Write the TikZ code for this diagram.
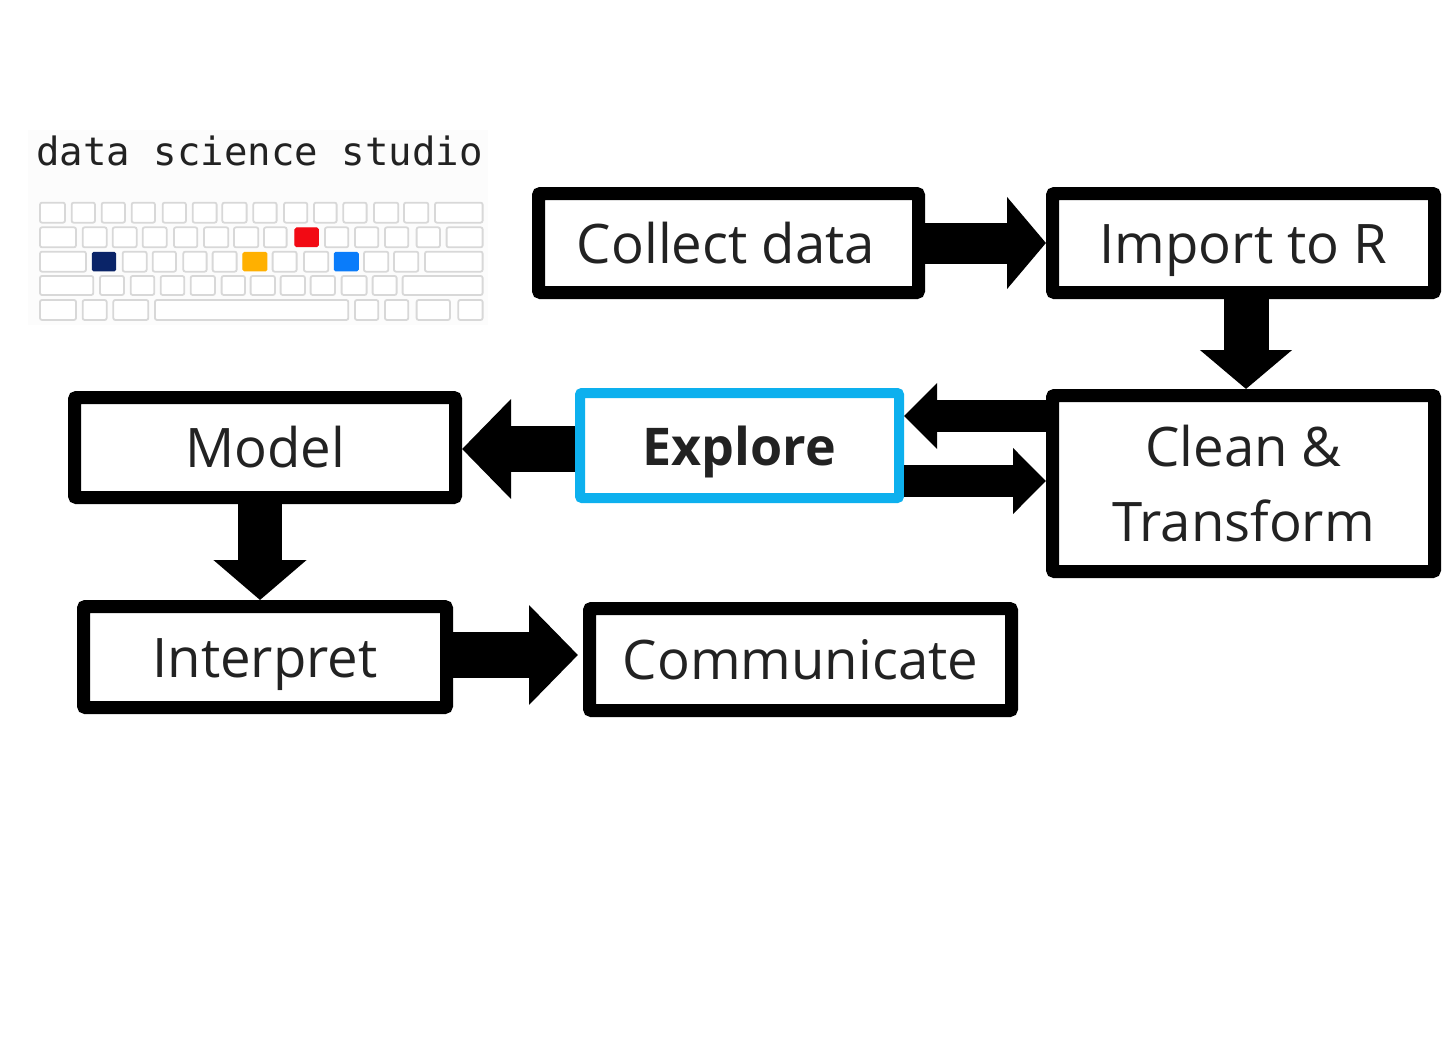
\documentclass[tikz,border=0pt]{standalone}
\usepackage{fontspec}
\setmainfont{Open Sans}
\newfontfamily\logofont{DejaVu Sans Mono}
\usetikzlibrary{arrows.meta}
\definecolor{exploreblue}{HTML}{0DB0EE}
\definecolor{keyline}{HTML}{D8D8D8}
\definecolor{txt}{HTML}{222222}
\definecolor{kred}{HTML}{F20A14}
\definecolor{knavy}{HTML}{0A2468}
\definecolor{korange}{HTML}{FFB000}
\definecolor{kblue}{HTML}{0A7CFA}
\tikzset{
  stagebox/.style={draw=black,line width=13pt,rounded corners=2pt,fill=white,inner sep=0pt,text=txt,
    font=\fontsize{54.5}{75}\selectfont,align=center},
  oneline/.style={text height=45pt,text depth=5pt},
  arrowA/.style={line width=41pt,-{Triangle[length=39pt,width=90pt]}},
  arrowB/.style={line width=32pt,-{Triangle[length=33pt,width=64pt]}},
  arrowC/.style={line width=46pt,-{Triangle[length=49pt,width=97pt]}},
  kbkey/.style={draw=keyline,line width=1.8pt,fill=white,rounded corners=2pt},
  kbcol/.style={draw=#1,fill=#1,line width=1pt,rounded corners=1.5pt},
}
\begin{document}
\begin{tikzpicture}[x=1pt,y=-1pt]
\useasboundingbox (0,0) rectangle (1445,1062);
\fill[white] (0,0) rectangle (1445,1062);
% logo
\fill[black!1] (28,130) rectangle (488,325);
\node[font=\logofont\fontsize{39}{39}\selectfont,text=txt,inner sep=0pt,anchor=base] (logotext) at (259.5,165) {data science studio};
\begin{scope}[shift={(20,120)},x=0.3333pt,y=-0.3333pt]
\foreach \a/\b in {60/135,155/225,245/315,335/405,428/498,518/590,607/680,700/770,792/862,882/950,970/1040,1062/1135,1152/1225,1245/1388}
  \draw[kbkey] (\a,248) rectangle (\b,308);
\foreach \a/\b in {60/168,188/260,278/350,368/440,462/532,552/625,642/715,732/800,915/985,1005/1075,1095/1165,1190/1260,1280/1388}
  \draw[kbkey] (\a,322) rectangle (\b,382);
\foreach \a/\b in {60/198,308/380,398/468,490/560,578/650,758/830,852/925,1032/1105,1122/1195,1215/1388}
  \draw[kbkey] (\a,395) rectangle (\b,455);
\foreach \a/\b in {60/220,240/312,332/403,422/493,512/585,605/675,692/765,782/855,872/945,965/1040,1058/1130,1148/1388}
  \draw[kbkey] (\a,468) rectangle (\b,525);
\foreach \a/\b in {60/168,188/260,280/385,405/985,1005/1075,1095/1165,1190/1290,1315/1388}
  \draw[kbkey] (\a,540) rectangle (\b,600);
\draw[kbcol=kred] (825,324) rectangle (895,380);
\draw[kbcol=knavy] (217,397) rectangle (287,453);
\draw[kbcol=korange] (669,397) rectangle (741,453);
\draw[kbcol=kblue] (943,397) rectangle (1015,453);
\end{scope}
% boxes
\node[stagebox,oneline,minimum width=380pt,minimum height=99pt] (collect) at (728.5,243) {\hspace{-5pt}Collect data};
\node[stagebox,oneline,minimum width=382pt,minimum height=99pt] (import) at (1243.5,243) {Import to R};
\node[stagebox,minimum width=382pt,minimum height=176pt] (clean) at (1243.5,483.5) {Clean \&\\Transform};
\node[stagebox,oneline,draw=exploreblue,line width=10pt,minimum width=319pt,minimum height=105pt,font=\fontsize{52}{75}\selectfont\bfseries] (explore) at (739.5,445.5) {Explore};
\node[stagebox,oneline,minimum width=381pt,minimum height=100pt] (model) at (265,447.5) {Model};
\node[stagebox,oneline,minimum width=363pt,minimum height=101pt] (interpret) at (265,657) {Interpret};
\node[stagebox,oneline,minimum width=422pt,minimum height=102pt] (communicate) at (800.5,659.5) {Communicate};
% named coordinates on node sides
\coordinate (ca) at (collect.east);
\coordinate (ia) at (import.west);
\coordinate (ib) at ([xshift=2.5pt]import.south);
\coordinate (cb) at (ib |- clean.north);
\coordinate (c1) at (clean.west |- 0,416);
\coordinate (e1) at (explore.east |- 0,416);
\coordinate (e2) at (explore.east |- 0,481);
\coordinate (c2) at (clean.west |- 0,481);
\coordinate (e3) at (explore.west |- 0,449);
\coordinate (m3) at (model.east |- 0,449);
\coordinate (m4) at ([xshift=-5pt]model.south);
\coordinate (i4) at (m4 |- interpret.north);
\coordinate (i5) at (interpret.east |- 0,655);
\coordinate (k5) at (communicate.west |- 0,655);
% connectors
\draw[arrowA] (ca) -- (ia);
\draw[arrowC,line width=45pt,-{Triangle[length=39pt,width=90pt]}] (ib) -- (cb);
\draw[arrowB] (c1) -- (e1);
\draw[arrowB] (e2) -- (c2);
\draw[arrowC] (e3) -- (m3);
\draw[arrowC,line width=44pt,-{Triangle[length=40pt,width=91pt]}] (m4) -- (i4);
\draw[arrowC,shorten >=5pt] (i5) -- (k5);
\end{tikzpicture}
\end{document}
